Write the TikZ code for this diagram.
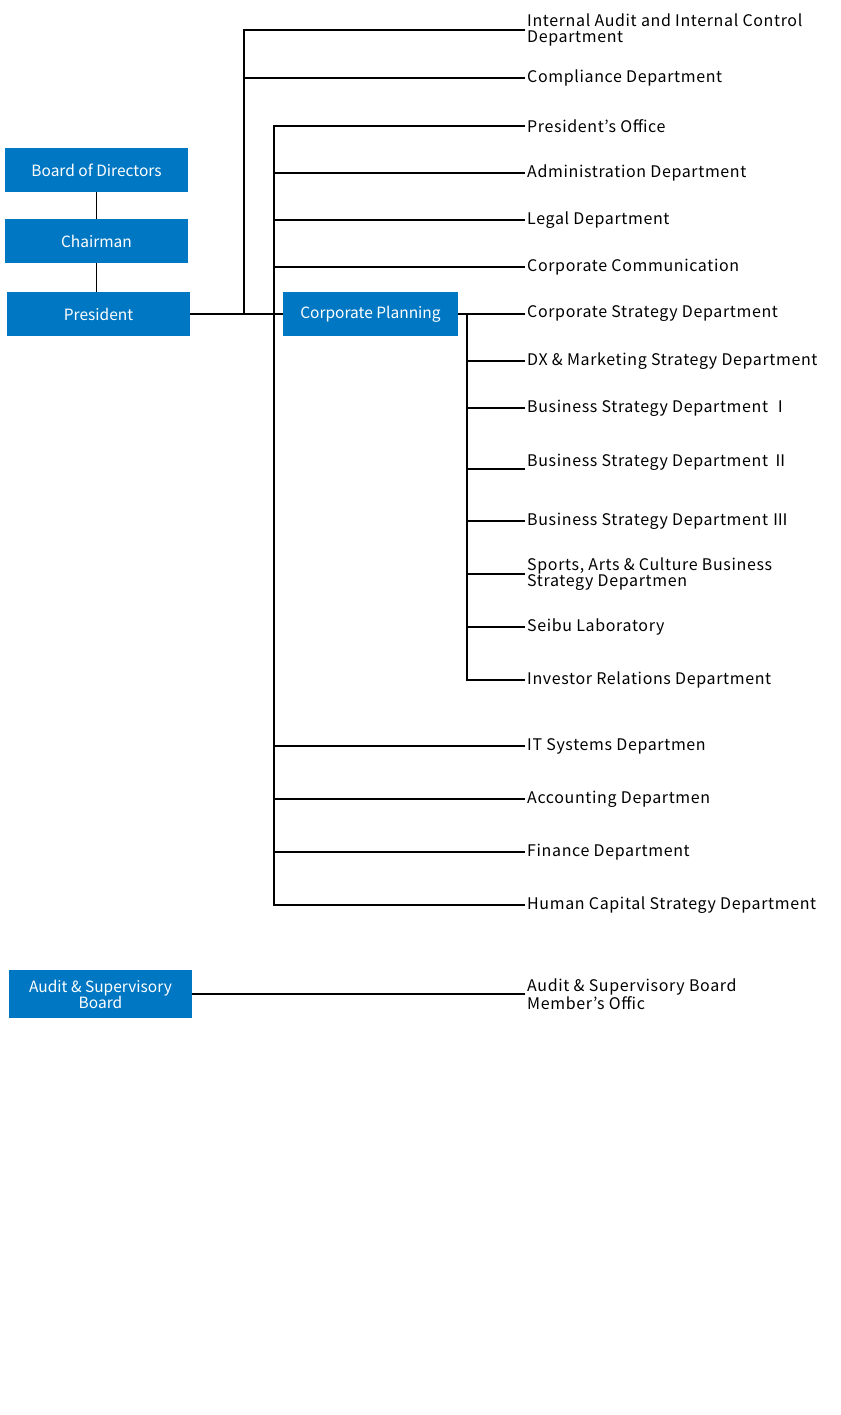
\documentclass[tikz,border=0pt]{standalone}
\usepackage{fontspec}
\newfontfamily\labfont[LetterSpace=4]{Noto Sans CJK JP}
\newfontfamily\boxfont{Noto Sans CJK JP}
\definecolor{boxblue}{RGB}{0,119,194}
\begin{document}
\begin{tikzpicture}[x=1pt,y=-1pt,
  box/.style={fill=boxblue, text=white, minimum width=183pt, minimum height=44pt, inner sep=0pt,
    font=\boxfont\fontsize{15.5}{16}\selectfont, align=center},
  lab/.style={anchor=west, inner xsep=2pt, inner ysep=0pt, font=\labfont\fontsize{16}{16}\selectfont, align=left},
  conn/.style={line width=1.5pt}]
\useasboundingbox[fill=white] (0,0) rectangle (840,1415);
% boxes
\node[box] (bod) at (96.5,170) {Board of Directors};
\node[box] (chair) at (96.5,241) {Chairman};
\node[box] (pres) at (98.5,314) {President};
\node[box, minimum width=175pt] (cp) at (370.5,314) {Corporate Planning};
\node[box, minimum height=48pt] (asb) at (100.5,994) {Audit \& Supervisory\\Board};
% labels
\node[lab] (ia) at (525,30) {Internal Audit and Internal Control\\Department};
\node[lab] (cm) at (525,78) {Compliance Department};
\node[lab] (po) at (525,126) {President’s Office};
\node[lab] (ad) at (525,173) {Administration Department};
\node[lab] (lg) at (525,220) {Legal Department};
\node[lab] (cc) at (525,267) {Corporate Communication};
\node[lab] (cs) at (525,314) {Corporate Strategy Department};
\node[lab] (dx) at (525,361) {DX \& Marketing Strategy Department};
\node[lab] (bs1) at (525,408) {Business Strategy Department Ⅰ};
\node[lab] (bs2) at (525,462) {Business Strategy Department Ⅱ};
\coordinate (bs2e) at (525,469);
\node[lab] (bs3) at (525,521) {Business Strategy Department Ⅲ};
\node[lab] (sa) at (525,574) {Sports, Arts \& Culture Business\\Strategy Departmen};
\node[lab] (sl) at (525,627) {Seibu Laboratory};
\node[lab] (ir) at (525,680) {Investor Relations Department};
\node[lab] (it) at (525,746) {IT Systems Departmen};
\node[lab] (ac) at (525,799) {Accounting Departmen};
\node[lab] (fi) at (525,852) {Finance Department};
\node[lab] (hc) at (525,905) {Human Capital Strategy Department};
\node[lab] (ao) at (525,994) {Audit \& Supervisory Board\\Member’s Offic};
% junctions
\coordinate (va) at (244,314);
\coordinate (vb) at (274,314);
\coordinate (vc) at (467,314);
% connectors
\draw[conn] (bod) -- (chair);
\draw[conn] (chair.south) -- (chair.south |- pres.north);
\draw[conn] (pres.east) -- (cp.west);
\draw[conn] (ia.west) -| (va);
\draw[conn] (va |- cm.west) -- (cm.west);
\draw[conn] (po.west) -| (vb) |- (hc.west);
\foreach \n in {ad,lg,cc,it,ac,fi} \draw[conn] (vb |- \n.west) -- (\n.west);
\draw[conn] (cp.east) -- (cs.west);
\draw[conn] (vc) |- (ir.west);
\foreach \n in {dx,bs1,bs3,sa,sl} \draw[conn] (vc |- \n.west) -- (\n.west);
\draw[conn] (vc |- bs2e) -- (bs2e);
\draw[conn] (asb.east) -- (ao.west);
\end{tikzpicture}
\end{document}
